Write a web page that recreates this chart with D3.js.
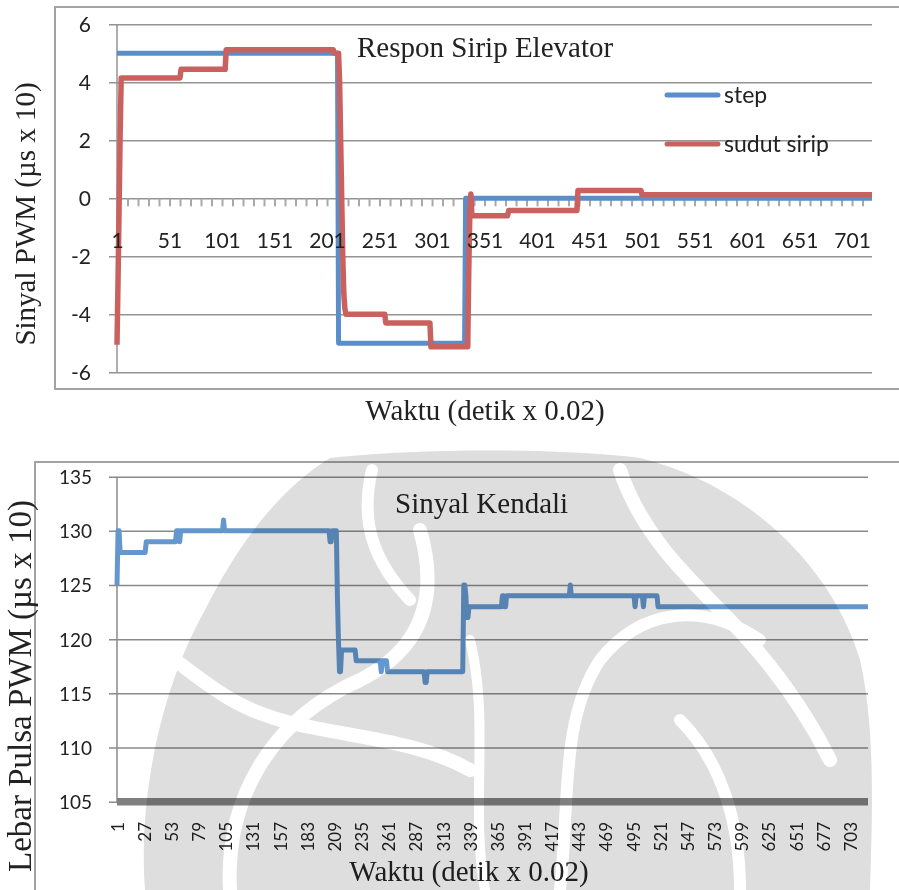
<!DOCTYPE html>
<html>
<head>
<meta charset="utf-8">
<script src="https://cdn.jsdelivr.net/npm/d3@7"></script>
<style>
  html, body { margin: 0; padding: 0; background: #fff; }
  svg { display: block; }
  .serif { font-family: "Liberation Serif", "Times New Roman", serif; fill: #222; }
  .sans { font-family: Lato, "Open Sans", sans-serif; fill: #222; }
</style>
</head>
<body>
<svg id="chart" width="899" height="890"></svg>
<script>
// ---------------- DATA ----------------
const pointCount = 720;
// Top chart: [index, value] change points (value holds until next change)
const stepChanges = [[1, 5], [212, -5], [333, 0]];
const sudutChanges = [
  [1, -5.05], [2, -2.8], [3, -0.3], [4, 2.2], [5, 4.15], [62, 4.45], [105, 5.12],
  [208, 5.0], [213, 4.0], [214, 2.0], [215, 0], [216, -2.0], [217, -3.3], [218, -3.8],
  [219, -4.0], [257, -4.3], [300, -5.12], [336, -2.5], [337, -0.5], [338, 0.15],
  [339, -0.6], [374, -0.42], [440, 0.27], [501, 0.12]
];
// Bottom chart
const kendaliChanges = [
  [1, 125], [2, 130], [4, 128], [29, 129], [58, 130], [61, 129], [62, 130], [103, 131],
  [104, 130], [205, 129], [207, 130], [212, 124], [213, 120], [214, 117], [216, 119],
  [230, 118], [254, 117], [255, 118], [260, 117], [296, 116], [298, 117], [333, 125],
  [335, 124], [336, 122], [338, 123], [370, 124], [372, 123], [374, 124], [435, 125],
  [436, 124], [497, 123], [498, 124], [505, 123], [506, 124], [519, 123]
];
const topYTicks = [-6, -4, -2, 0, 2, 4, 6];
const bottomYTicks = [105, 110, 115, 120, 125, 130, 135];
const topXLabels = d3.range(1, 702, 50);      // 1, 51, ... 701
const topXMinorTicks = d3.range(1, 720, 10);  // tick every 10
const bottomXLabels = d3.range(1, 704, 26);   // 1, 27, ... 703
const seriesNames = ["step", "sudut sirip"];
const titles = {
  top: "Respon Sirip Elevator",
  bottom: "Sinyal Kendali",
  topY: "Sinyal PWM (µs x 10)",
  bottomY: "Lebar Pulsa PWM (µs x 10)",
  x: "Waktu (detik x 0.02)"
};

function expand(changes) {
  const out = [];
  let k = 0;
  for (let i = 1; i <= pointCount; i++) {
    while (k + 1 < changes.length && changes[k + 1][0] <= i) k++;
    out.push({ i: i, v: changes[k][1] });
  }
  return out;
}
const stepData = expand(stepChanges);
const sudutData = expand(sudutChanges);
const kendaliData = expand(kendaliChanges);

// ---------------- DRAW ----------------
const svg = d3.select("#chart");
const gridColor = "#939393";
const blue = "#5b8ec9";
const red = "#c9625e";

// ===== TOP CHART =====
const t = svg.append("g");
t.append("rect").attr("x", 55).attr("y", 7).attr("width", 880).attr("height", 382)
  .attr("fill", "none").attr("stroke", "#a3a3a3").attr("stroke-width", 2);

const xT = d3.scaleLinear().domain([1, pointCount]).range([117, 872]);
const yT = d3.scaleLinear().domain([-6, 6]).range([372.3, 24.3]);

const yAxisT = d3.axisLeft(yT).tickValues(topYTicks).tickSize(-(872 - 109)).tickPadding(0).tickFormat(d => d);
const gy = t.append("g").attr("transform", "translate(109,0)").call(yAxisT);
gy.select(".domain").remove();
gy.selectAll(".tick line").attr("stroke", gridColor).attr("stroke-width", 1.5);
gy.selectAll(".tick text").attr("class", "sans").attr("font-size", 21).attr("x", -18).attr("dy", "0.36em")
  .style("text-anchor", "end").attr("fill", "#222");
gy.attr("font-family", null);

t.append("line").attr("x1", xT(1)).attr("x2", xT(1)).attr("y1", yT(6)).attr("y2", yT(-6))
  .attr("stroke", gridColor).attr("stroke-width", 1.5);

const gxT = t.append("g").attr("transform", `translate(0,${yT(0)})`)
  .call(d3.axisBottom(xT).tickValues(topXMinorTicks).tickSize(8).tickFormat(""));
gxT.select(".domain").remove();
gxT.selectAll(".tick line").attr("stroke", "#a8a8a8").attr("stroke-width", 2);

const lineT = d3.line().x(d => xT(d.i)).y(d => yT(d.v));
t.append("path").datum(stepData).attr("d", lineT).attr("fill", "none")
  .attr("stroke", blue).attr("stroke-width", 5).attr("stroke-linejoin", "round");
t.append("path").datum(sudutData).attr("d", lineT).attr("fill", "none")
  .attr("stroke", red).attr("stroke-width", 5.5).attr("stroke-linejoin", "round");

const gxL = t.append("g").attr("transform", "translate(0,248)")
  .call(d3.axisBottom(xT).tickValues(topXLabels).tickSize(0).tickPadding(0).tickFormat(d => d));
gxL.select(".domain").remove();
gxL.selectAll(".tick text").attr("class", "sans").attr("font-size", 21).attr("y", 0).attr("dy", 0).attr("fill", "#222");
gxL.attr("font-family", null);

t.append("text").attr("class", "serif").attr("x", 357).attr("y", 57).attr("font-size", 29).text(titles.top);

const legend = t.append("g");
[blue, red].forEach((c, k) => {
  const ly = 95 + k * 49;
  legend.append("line").attr("x1", 667).attr("x2", 718).attr("y1", ly).attr("y2", ly)
    .attr("stroke", c).attr("stroke-width", 5).attr("stroke-linecap", "round");
  legend.append("text").attr("class", "sans").attr("x", 724).attr("y", ly).attr("dy", "0.36em")
    .attr("font-size", 23).text(seriesNames[k]);
});

t.append("text").attr("class", "serif").attr("font-size", 29).attr("text-anchor", "middle")
  .attr("transform", "translate(35,214) rotate(-90)").text(titles.topY);
t.append("text").attr("class", "serif").attr("font-size", 29).attr("text-anchor", "middle")
  .attr("x", 485).attr("y", 420).text(titles.x);

// ===== BOTTOM CHART =====
const b = svg.append("g");
b.append("rect").attr("x", 35).attr("y", 462).attr("width", 900).attr("height", 460)
  .attr("fill", "none").attr("stroke", "#a3a3a3").attr("stroke-width", 2);

const xB = d3.scaleLinear().domain([1, pointCount]).range([117, 868]);
const yB = d3.scaleLinear().domain([105, 135]).range([801.7, 476.7]);

const yAxisB = d3.axisLeft(yB).tickValues(bottomYTicks).tickSize(-(868 - 109)).tickPadding(0).tickFormat(d => d);
const gyB = b.append("g").attr("transform", "translate(109,0)").call(yAxisB);
gyB.select(".domain").remove();
gyB.selectAll(".tick line").attr("stroke", "#8a8a8a").attr("stroke-width", 1.5);
gyB.selectAll(".tick text").attr("class", "sans").attr("font-size", 19).attr("x", -17).attr("dy", "0.36em")
  .style("text-anchor", "end").attr("fill", "#222");
gyB.attr("font-family", null);

b.append("line").attr("x1", xB(1)).attr("x2", xB(1)).attr("y1", yB(135)).attr("y2", yB(105))
  .attr("stroke", "#8a8a8a").attr("stroke-width", 1.5);

b.append("line").attr("x1", xB(1)).attr("x2", xB(pointCount)).attr("y1", yB(105)).attr("y2", yB(105))
  .attr("stroke", "#808080").attr("stroke-width", 7.5);

const gxB = b.append("g").attr("transform", "translate(0,822)")
  .call(d3.axisBottom(xB).tickValues(bottomXLabels).tickSize(0).tickPadding(0).tickFormat(d => d));
gxB.select(".domain").remove();
gxB.selectAll(".tick text").attr("class", "sans").attr("font-size", 17).attr("fill", "#222")
  .attr("y", 0).attr("dy", "0.36em").attr("transform", "rotate(-90)").style("text-anchor", "end");
gxB.attr("font-family", null);

const lineB = d3.line().x(d => xB(d.i)).y(d => yB(d.v));
b.append("path").datum(kendaliData).attr("d", lineB).attr("fill", "none")
  .attr("stroke", "#6397cd").attr("stroke-width", 5).attr("stroke-linejoin", "round");

b.append("text").attr("class", "serif").attr("x", 395).attr("y", 513).attr("font-size", 29).text(titles.bottom);

b.append("text").attr("class", "serif").attr("font-size", 33).attr("text-anchor", "middle")
  .attr("transform", "translate(31,686) rotate(-90)").text(titles.bottomY);
b.append("text").attr("class", "serif").attr("font-size", 29).attr("text-anchor", "middle")
  .attr("x", 469).attr("y", 881).text(titles.x);

// ===== page watermark (light grey logo over the lower chart, approximated) =====
// whole group is composited first, then multiplied onto the page: white parts leave the chart untouched
const wm = svg.append("g").style("mix-blend-mode", "multiply").style("pointer-events", "none");
wm.append("path")
  .attr("d", "M330,458 C420,448 560,448 640,458 C740,482 830,560 860,660 C876,730 872,820 870,890 L145,890 C138,800 160,690 205,610 C235,550 275,492 330,458 Z")
  .attr("fill", "#dedede");
const sw = wm.append("g").attr("fill", "none").attr("stroke", "#fff").attr("stroke-linecap", "round");
sw.append("path").attr("d", "M175,660 C215,690 240,712 300,725 C360,738 420,742 470,770").attr("stroke-width", 14);
sw.append("path").attr("d", "M230,890 C225,800 270,720 360,680 C420,650 440,600 420,530").attr("stroke-width", 14);
sw.append("path").attr("d", "M372,470 C360,520 372,560 410,600").attr("stroke-width", 12);
sw.append("path").attr("d", "M485,890 C470,810 490,720 470,640").attr("stroke-width", 10);
sw.append("path").attr("d", "M620,470 C640,530 680,570 720,610 C760,650 800,700 830,760").attr("stroke-width", 14);
sw.append("path").attr("d", "M560,890 C570,800 560,720 600,660 C640,610 700,600 760,640").attr("stroke-width", 12);
sw.append("path").attr("d", "M740,890 C740,820 720,760 680,720").attr("stroke-width", 12);
</script>
</body>
</html>
